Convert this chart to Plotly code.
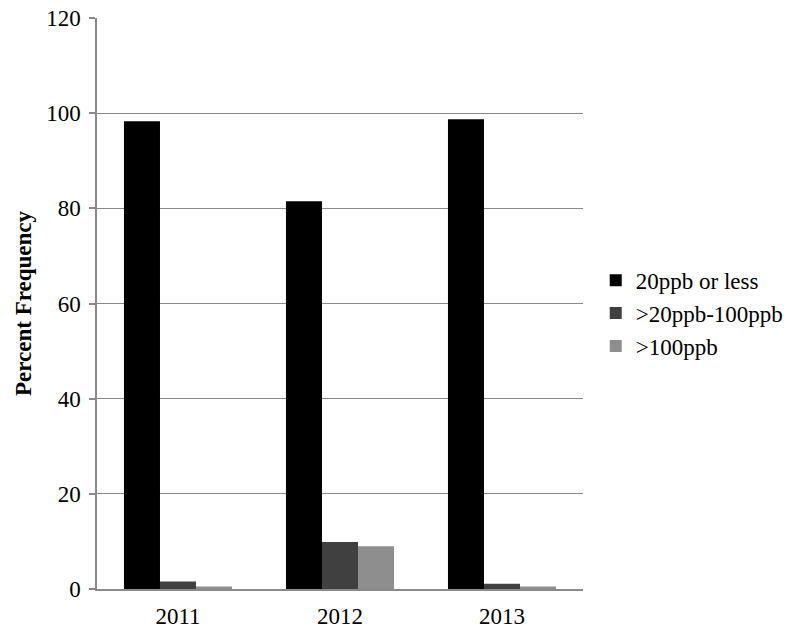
import plotly.graph_objects as go

# Arsenic concentration frequency by year
years = ["2011", "2012", "2013"]
series_names = ["20ppb or less", ">20ppb-100ppb", ">100ppb"]
low = [98.3, 81.5, 98.7]
mid = [1.6, 9.9, 1.1]
high = [0.5, 9.0, 0.5]
y_ticks = [0, 20, 40, 60, 80, 100, 120]

colors = ["#000000", "#404040", "#8e8e8e"]
font_family = "Liberation Serif, Times New Roman, serif"

fig = go.Figure()
for name, vals, col in zip(series_names, [low, mid, high], colors):
    fig.add_trace(go.Bar(
        x=years, y=vals, name=name,
        marker=dict(color=col, line=dict(width=0)),
    ))

fig.update_layout(
    width=788, height=632,
    margin=dict(l=97, r=205, t=18, b=43, autoexpand=False),
    paper_bgcolor="white", plot_bgcolor="white",
    barmode="group", bargap=0.333, bargroupgap=0,
    font=dict(family=font_family, size=23, color="#000000"),
    showlegend=True,
    legend=dict(
        x=0.756, y=0.483, xref="container", yref="paper",
        xanchor="left", yanchor="middle",
        font=dict(family=font_family, size=23, color="#000000"),
        tracegroupgap=0, bgcolor="rgba(0,0,0,0)", itemwidth=30,
    ),
    xaxis=dict(
        showline=True, linecolor="#8a8a8a", linewidth=1.5,
        ticks="", showgrid=False, ticklabelstandoff=6, automargin=False,
        tickfont=dict(family=font_family, size=23),
    ),
    yaxis=dict(
        range=[0, 120], tickvals=y_ticks,
        showline=True, linecolor="#8a8a8a", linewidth=1.5,
        ticks="outside", ticklen=6, tickcolor="#8a8a8a", tickwidth=1.5,
        showgrid=True, gridcolor="#8a8a8a", gridwidth=1.2,
        zeroline=False, ticklabelstandoff=4, automargin=False,
        tickfont=dict(family=font_family, size=23),
        title=dict(text="<b>Percent Frequency</b>",
                   font=dict(family=font_family, size=23), standoff=8),
    ),
)

fig.write_html("out.html")
